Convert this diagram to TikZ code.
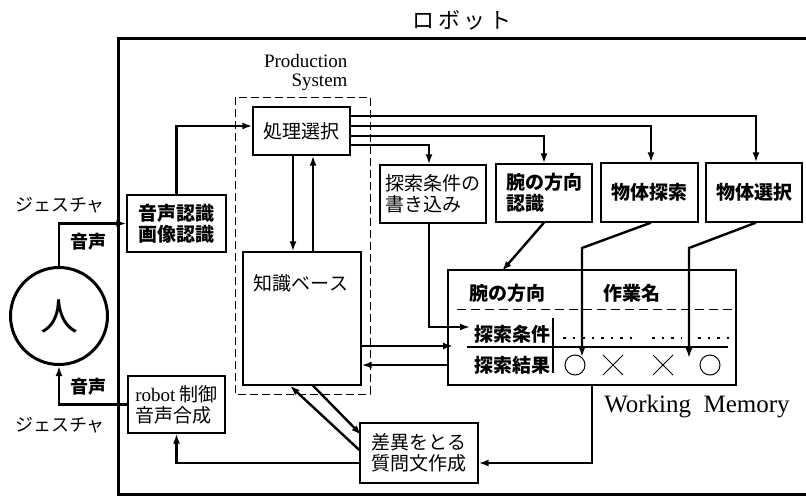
\documentclass[tikz,border=0pt]{standalone}
\usepackage{fontspec}
\setmainfont{Liberation Serif}
\newfontfamily\jp{Noto Sans CJK JP}
\usetikzlibrary{arrows.meta,calc}
\begin{document}
\begin{tikzpicture}[x=1pt,y=-1pt,
  box/.style={draw,line width=1.3pt,inner sep=0pt,align=center,font=\jp\fontsize{19}{21}\selectfont},
  boxb/.style={box,font=\jp\bfseries\fontsize{19}{21}\selectfont},
  conn/.style={line width=2.4pt,-{Latex[length=10pt,width=7pt]}},
  lbl/.style={font=\jp\fontsize{18}{20}\selectfont},
  lblb/.style={font=\jp\bfseries\fontsize{18}{20}\selectfont},
  wmt/.style={font=\jp\bfseries\fontsize{19}{21}\selectfont},
  thin/.style={line width=1pt}]
\useasboundingbox (0,0) rectangle (806,501);

% title and outer robot frame
\node[font=\jp\fontsize{22}{24}\selectfont] (title) at (462,20) {ロ\,ボ\,ッ\,ト};
\draw[line width=3pt] (806,38) -- (118,38) -- (118,494) -- (806,494);

% production system
\draw[thin,dash pattern=on 8pt off 4pt] (235,97) rectangle (370,394);
\node[align=right,font=\fontsize{19}{19}\selectfont,anchor=north east] (pslbl) at (351,51) {Production\\System};

% boxes
\node[box,minimum width=97pt,minimum height=48pt] (ps) at (301.5,131) {処理選択};
\node[boxb,minimum width=99pt,minimum height=57pt] (sr) at (176.5,223.5) {音声認識\\画像認識};
\node[box,align=left,minimum width=97pt,minimum height=57pt] (rc) at (176.5,404.5) {{\rmfamily robot} 制御\\音声合成};
\node[box,minimum width=118pt,minimum height=133pt] (kb) at (302,318.5) {};
\node[font=\jp\fontsize{19}{21}\selectfont] (kbl) at (301,283) {知識ベース};
\node[box,align=left,minimum width=106pt,minimum height=58pt] (wr) at (433,194) {探索条件の\\書き込み};
\node[boxb,align=left,minimum width=96pt,minimum height=58pt] (ad) at (544,193) {腕の方向\\認識};
\node[boxb,minimum width=97pt,minimum height=59pt] (os) at (649.5,192.5) {物体探索};
\node[boxb,minimum width=96pt,minimum height=59pt] (osel) at (754,192.5) {物体選択};
\node[box,minimum width=288pt,minimum height=115pt] (wm) at (592,327.5) {};
\node[box,align=left,minimum width=118pt,minimum height=60pt] (diff) at (419,453) {差異をとる\\質問文作成};
\node[font=\fontsize{25}{28}\selectfont] (wmlbl) at (697,407) {Working\hspace{0.5em}Memory};

% person
\node[draw,circle,line width=3pt,minimum size=97pt,inner sep=0pt,font=\jp\fontsize{38}{40}\selectfont] (person) at (59,316) {人};
\node[lbl] (g1) at (60,205) {ジェスチャ};
\node[lblb] (v1) at (88,242) {音声};
\node[lblb] (v2) at (88,387) {音声};
\node[lbl] (g2) at (60,425) {ジェスチャ};

% working memory interior
\node[wmt] (wa) at (507,293) {腕の方向};
\node[wmt] (wn) at (632,293) {作業名};
\node[wmt] (wc) at (512,334) {探索条件};
\node[wmt] (wres) at (512,365) {探索結果};
\draw[thin,dash pattern=on 9pt off 5pt] (457,309) -- (735,309);
\draw[line width=1.2pt] (553,318) -- (553,373);
\draw[line width=1.2pt] (467,347) -- (728,347);
\draw[line width=2.5pt,dash pattern=on 2.5pt off 7pt] (563,338) -- (636,338);
\draw[line width=2.5pt,dash pattern=on 2.5pt off 7pt] (652,338) -- (681,338);
\draw[line width=2.5pt,dash pattern=on 2.5pt off 7pt] (698,338) -- (733,338);
\node[draw,thin,circle,minimum size=20pt,inner sep=0pt] (c1) at (575,365) {};
\node[draw,thin,circle,minimum size=20pt,inner sep=0pt] (c2) at (710,365) {};
\draw[thin] (603,355) -- (623,375) (603,375) -- (623,355);
\draw[thin] (653,355) -- (673,375) (653,375) -- (673,355);

% coordinates for free ends
\coordinate (kbin) at (453,346);
\coordinate (wcin) at (470,327);
\coordinate (wain) at (502,271);
\coordinate (osb) at (582,248);
\coordinate (ose) at (582,357);
\coordinate (selb) at (689,248);
\coordinate (sele) at (689,358);

% connectors
\draw[conn] (person.north) |- (sr.west);
\draw[conn] (rc.west) -| (person.south);
\draw[conn] (sr.north) |- ([yshift=5pt]ps.west);
\draw[conn] ([xshift=-8.5pt]ps.south) -- ([xshift=-8.5pt]ps.south |- kb.north);
\draw[conn] ([xshift=11.5pt]ps.south |- kb.north) -- ([xshift=11.5pt]ps.south);
\draw[conn] (ps.east |- 0,145) -| ([xshift=-4pt]wr.north);
\draw[conn] (ps.east |- 0,136) -| (ad.north);
\draw[conn] (ps.east |- 0,126) -| ([xshift=1.5pt]os.north);
\draw[conn] (ps.east |- 0,116) -| ([xshift=2pt]osel.north);
\draw[conn] ([xshift=-4pt]wr.south) |- (wcin);
\draw[conn] (ad.south) -- (wain);
\draw[conn] ([xshift=1.5pt]os.south) -- (osb) -- (ose);
\draw[conn] ([xshift=2pt]osel.south) -- (selb) -- (sele);
\draw[conn] (kb.east |- kbin) -- (kbin);
\draw[conn] (wm.west |- 0,365) -- (kb.east |- 0,365);
\draw[conn] (wm.south) |- ([yshift=-10pt]diff.east);
\draw[conn] ([yshift=-10pt]diff.west) -| (rc.south);
\draw[conn] ([yshift=3pt]diff.west) -- ([xshift=-12pt]kb.south);
\draw[conn] ([xshift=11pt]kb.south) -- ([yshift=18pt,xshift=2pt]diff.west);
\end{tikzpicture}
\end{document}
